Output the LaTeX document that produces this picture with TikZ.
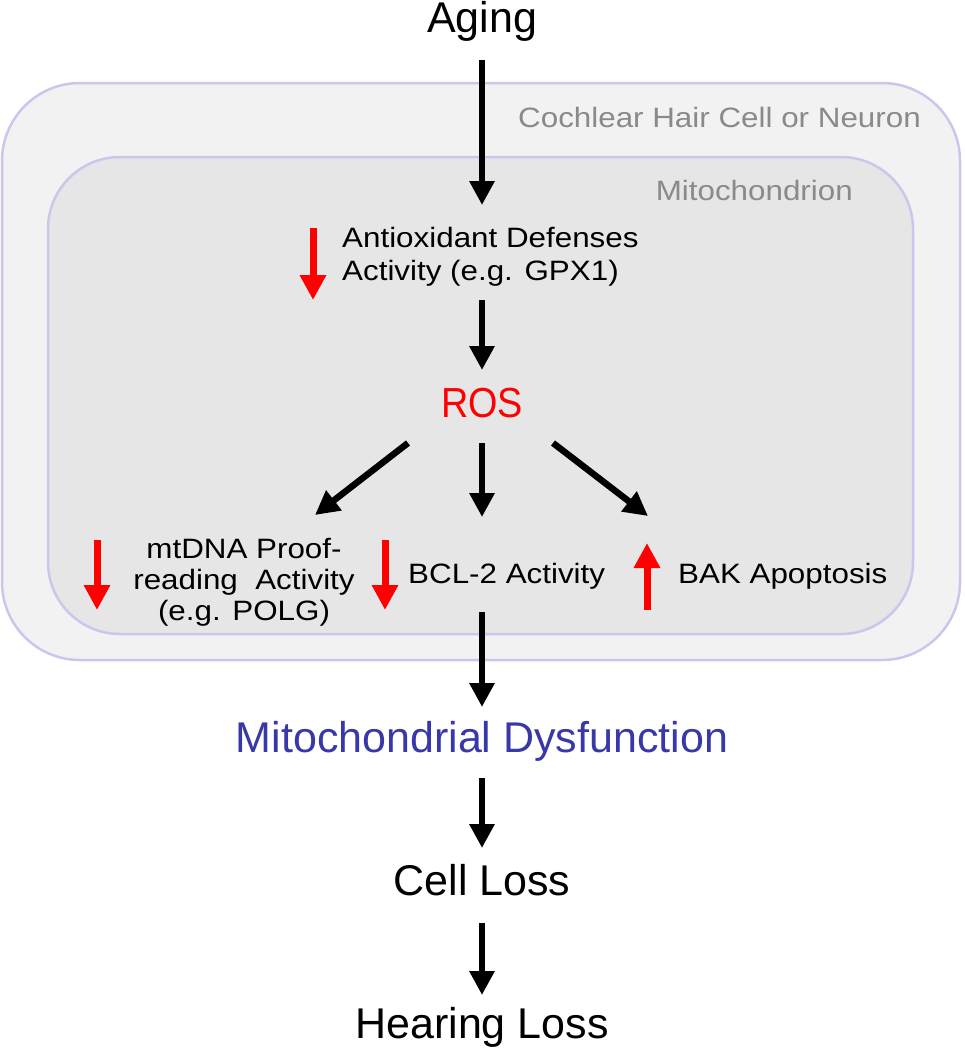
\documentclass[tikz,border=0pt]{standalone}
\usepackage{fontspec}
\setmainfont{Liberation Sans}
\newfontfamily\smallfont[FakeStretch=1.12]{Liberation Sans}
\newfontfamily\rosfont[FakeStretch=0.9]{Liberation Sans}
\usetikzlibrary{arrows.meta,calc}

\definecolor{cellfill}{HTML}{F2F2F2}
\definecolor{mitofill}{HTML}{E6E6E6}
\definecolor{membrane}{HTML}{C8C8EE}
\definecolor{labelgray}{HTML}{8A8A8A}
\definecolor{dysblue}{HTML}{3838A8}

\tikzset{
  big/.style = {inner sep=0, font=\fontsize{43}{48}\selectfont},
  small/.style = {inner sep=0, font=\smallfont\fontsize{28}{33}\selectfont},
  flow/.style = {line width=6.5pt, -{Triangle[width=24pt,length=24pt]}},
  updown/.style = {draw=red, line width=7pt, -{Triangle[width=25pt,length=25pt]}}
}

\begin{document}
\begin{tikzpicture}[x=1pt, y=-1pt]
\useasboundingbox (0,0) rectangle (965,1050);

% Cell and mitochondrion
\draw [fill = cellfill, draw = membrane, line width=2.5pt,
    rounded corners=78pt] (2,83) rectangle (960,660);
\draw [fill = mitofill, draw = membrane, line width=2.5pt,
    rounded corners=72pt] (48,157) rectangle (913,634);

\node [small, text = labelgray, anchor = base east] (celllbl) at (921,127)
    {Cochlear Hair Cell or Neuron};
\node [small, text = labelgray, anchor = base east] (mitolbl) at (853,200)
    {Mitochondrion};

% Chain of events (base of a two/three line node = last line)
\node [big, anchor = base] (aging) at (482,32) {Aging};
\node [small, anchor = base west, align = left] (antiox) at (342,280)
    {Antioxidant Defenses\\Activity (e.g. GPX1)};
\node [inner sep=0, anchor = base, text = red,
    font = \rosfont\fontsize{42}{46}\selectfont] (ros) at (482,417) {ROS};
\node [small, anchor = base, align = center,
    font = \smallfont\fontsize{28}{31}\selectfont] (mtdna) at (244,620)
    {mtDNA Proof-\\reading~~Activity\\(e.g. POLG)};
\node [small, anchor = base west] (bcl) at (408,583) {BCL-2 Activity};
\node [small, anchor = base west] (bak) at (678,583) {BAK Apoptosis};
\node [big, anchor = base, text = dysblue] (mitodys) at (482,752)
    {Mitochondrial Dysfunction};
\node [big, anchor = base] (cellloss) at (482,895) {Cell Loss};
\node [big, anchor = base] (hearing) at (482,1038) {Hearing Loss};

% Arrows
\draw [flow] ($(aging.base)+(0,28)$) -- ($(antiox.base west)+(140,-75)$);
\draw [flow] ($(antiox.base west)+(140,20)$) -- ($(ros.base)+(0,-47)$);
\draw [flow] ($(ros.base)+(-74,26)$) -- ($(mtdna.base)+(71,-105)$);
\draw [flow] ($(ros.base)+(0,26)$) -- ($(bcl.base west)+(74,-66)$);
\draw [flow] ($(ros.base)+(71,26)$) -- ($(bak.base west)+(-30,-67)$);
\draw [flow] ($(bcl.base west)+(74,29)$) -- ($(mitodys.base)+(0,-45)$);
\draw [flow] ($(mitodys.base)+(0,26)$) -- ($(cellloss.base)+(0,-47)$);
\draw [flow] ($(cellloss.base)+(0,28)$) -- ($(hearing.base)+(0,-43)$);

% Up and down regulation
\draw [updown] ($(antiox.base west)+(-29,-52)$) -- ++(0,72);
\draw [updown] ($(mtdna.base)+(-147,-80)$) -- ++(0,70);
\draw [updown] ($(bcl.base west)+(-23,-43)$) -- ++(0,70);
\draw [updown] ($(bak.base west)+(-31,27)$) -- ++(0,-67);

\end{tikzpicture}
\end{document}
